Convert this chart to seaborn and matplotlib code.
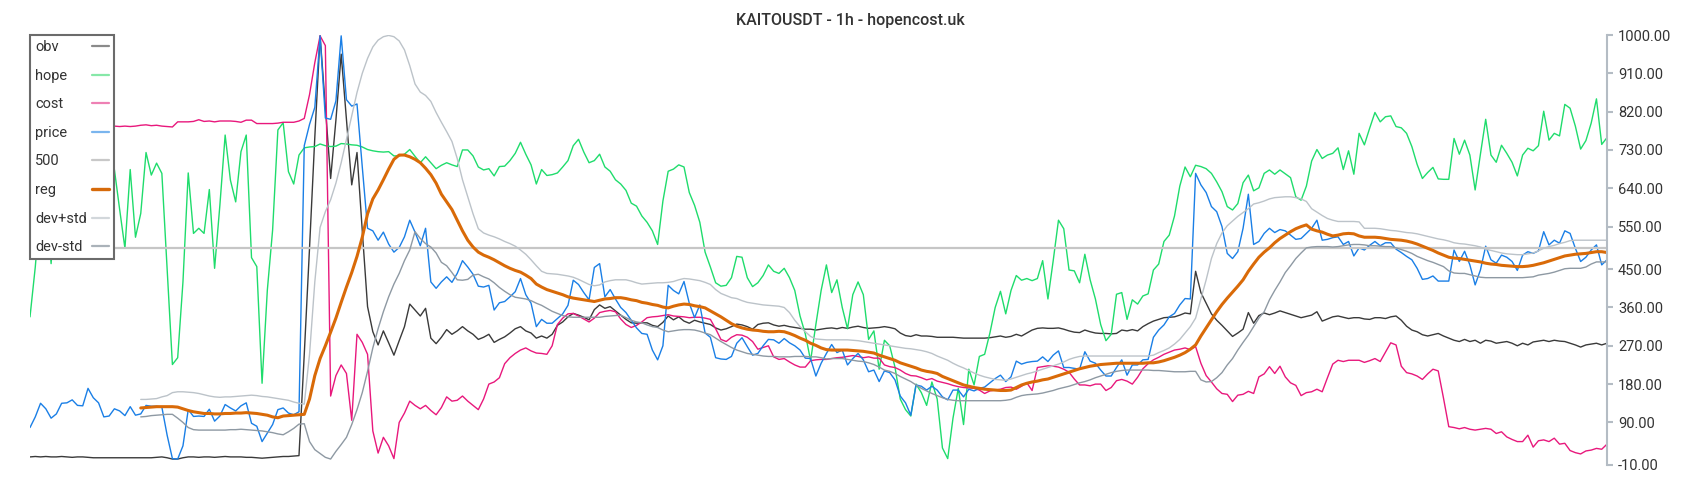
import numpy as np
import pandas as pd
import matplotlib
matplotlib.use("Agg")
import matplotlib.pyplot as plt
import seaborn as sns
from matplotlib.lines import Line2D

TITLE = "KAITOUSDT - 1h - hopencost.uk"

obv = [9, 10, 9, 10, 9, 9, 10, 9, 8, 9,
       9, 8, 7, 7, 7, 7, 7, 7, 7, 7,
       7, 7, 7, 7, 8, 9, 7, 4, 4, 7,
       9, 9, 8, 9, 9, 8, 9, 10, 9, 9,
       9, 8, 8, 7, 6, 7, 8, 9, 10, 10,
       11, 12, 250, 500, 760, 998, 830, 663, 800, 955,
       800, 648, 724, 540, 362, 303, 272, 305, 277, 248,
       282, 315, 368, 354, 340, 358, 288, 275, 290, 308,
       297, 305, 315, 305, 297, 285, 290, 297, 278, 285,
       291, 300, 310, 315, 305, 300, 288, 293, 288, 297,
       318, 326, 338, 346, 342, 337, 331, 355, 366, 358,
       362, 352, 342, 332, 324, 323, 324, 324, 318, 315,
       325, 340, 331, 338, 328, 323, 330, 326, 323, 320,
       312, 307, 310, 315, 321, 319, 315, 309, 320, 323,
       324, 319, 316, 318, 315, 313, 311, 309, 309, 307,
       309, 311, 312, 310, 313, 311, 314, 316, 313, 311,
       312, 313, 315, 313, 310, 300, 294, 292, 296, 293,
       293, 292, 290, 290, 290, 290, 289, 288, 288, 288,
       288, 288, 289, 291, 293, 290, 292, 297, 293, 300,
       307, 311, 312, 311, 311, 312, 309, 305, 302, 301,
       307, 303, 300, 299, 299, 298, 299, 307, 305, 308,
       305, 315, 322, 328, 332, 336, 337, 338, 342, 347,
       345, 445, 395, 370, 345, 330, 318, 305, 292, 300,
       309, 348, 323, 341, 347, 343, 347, 352, 348, 344,
       340, 336, 339, 342, 350, 328, 333, 338, 340, 337,
       334, 336, 336, 333, 332, 336, 336, 334, 338, 340,
       330, 316, 307, 303, 296, 293, 296, 299, 293, 288,
       283, 280, 285, 280, 283, 276, 283, 281, 276, 278,
       280, 276, 270, 276, 272, 279, 281, 283, 280, 283,
       281, 280, 276, 272, 267, 272, 274, 276, 272, 276]

hope = [338, 455, 600, 650, 463, 640, 700, 620, 680, 600,
        650, 700, 640, 690, 620, 600, 684, 590, 499, 684,
        525, 581, 724, 671, 699, 675, 450, 226, 242, 420,
        676, 534, 546, 534, 637, 452, 600, 765, 659, 608,
        726, 765, 477, 456, 182, 401, 542, 777, 794, 679,
        650, 718, 735, 737, 738, 744, 740, 738, 739, 745,
        744, 742, 741, 737, 731, 728, 726, 725, 726, 716,
        716, 720, 731, 715, 700, 714, 700, 686, 694, 700,
        695, 691, 730, 730, 716, 690, 683, 686, 669, 691,
        692, 705, 722, 748, 720, 695, 650, 684, 670, 672,
        676, 690, 705, 740, 755, 725, 700, 705, 720, 690,
        680, 660, 650, 635, 605, 598, 575, 560, 540, 508,
        610, 680, 685, 695, 690, 630, 600, 560, 490, 455,
        418, 410, 412, 430, 480, 478, 430, 409, 418, 435,
        460, 445, 440, 452, 430, 400, 340, 298, 235, 320,
        400, 460, 395, 425, 360, 310, 390, 420, 390, 285,
        305, 215, 283, 270, 220, 145, 120, 105, 180, 160,
        130, 185, 145, 30, 5, 100, 170, 85, 215, 178,
        245, 250, 300, 360, 398, 345, 400, 435, 424, 428,
        423, 428, 470, 380, 470, 565, 545, 448, 446, 418,
        485, 425, 380, 320, 282, 297, 391, 395, 332, 378,
        368, 387, 392, 448, 462, 515, 530, 575, 645, 690,
        667, 694, 691, 686, 675, 655, 632, 597, 589, 604,
        653, 671, 634, 641, 675, 683, 673, 683, 674, 665,
        620, 612, 645, 704, 731, 710, 718, 722, 735, 684,
        728, 673, 769, 742, 781, 818, 796, 808, 810, 785,
        782, 769, 738, 696, 663, 677, 689, 662, 661, 661,
        757, 720, 753, 718, 636, 720, 802, 718, 701, 741,
        722, 701, 669, 718, 734, 728, 740, 821, 753, 769,
        763, 837, 828, 786, 732, 752, 793, 850, 743, 759]

cost = [785, 786, 785, 784, 786, 785, 787, 786, 785, 784,
        786, 785, 786, 787, 786, 785, 786, 785, 786, 785,
        786, 788, 789, 787, 788, 786, 785, 784, 796, 796,
        796, 797, 801, 797, 798, 796, 798, 798, 798, 797,
        795, 800, 800, 792, 792, 792, 792, 793, 795, 795,
        795, 798, 804, 860, 935, 998, 975, 152, 200, 225,
        205, 95, 297, 278, 250, 70, 18, 55, 35, 5,
        90, 112, 140, 130, 122, 130, 118, 108, 125, 150,
        140, 142, 152, 140, 130, 120, 145, 180, 185, 195,
        228, 242, 252, 260, 265, 258, 253, 252, 250, 270,
        320, 335, 345, 346, 340, 333, 326, 335, 348, 351,
        353, 350, 333, 320, 313, 318, 326, 336, 338, 339,
        341, 343, 340, 339, 338, 336, 337, 337, 335, 332,
        310, 285, 280, 290, 296, 295, 290, 280, 262, 266,
        270, 244, 238, 240, 232, 225, 220, 220, 235, 237,
        238, 238, 240, 242, 243, 245, 247, 245, 242, 244,
        241, 241, 225, 221, 219, 213, 205, 200, 199, 195,
        190, 193, 187, 184, 181, 177, 174, 172, 171, 170,
        166, 158, 164, 166, 168, 172, 173, 168, 175, 183,
        165, 219, 221, 223, 222, 220, 215, 208, 192, 178,
        178, 176, 180, 180, 165, 172, 188, 191, 187, 180,
        196, 216, 228, 237, 243, 250, 255, 260, 262, 265,
        261, 268, 229, 200, 185, 169, 158, 156, 139, 154,
        156, 163, 158, 197, 204, 221, 205, 222, 197, 183,
        177, 153, 160, 162, 168, 162, 195, 227, 236, 233,
        236, 236, 236, 231, 235, 240, 233, 255, 277, 272,
        222, 207, 204, 199, 191, 204, 215, 211, 147, 80,
        78, 75, 78, 74, 72, 74, 76, 74, 64, 68,
        56, 50, 45, 45, 60, 32, 47, 49, 45, 53,
        39, 41, 24, 19, 16, 23, 25, 29, 27, 39]

price = [78, 103, 135, 122, 100, 110, 135, 136, 143, 130,
         129, 170, 148, 136, 103, 105, 122, 117, 106, 127,
         107, 110, 130, 128, 128, 126, 60, 5, 4, 35,
         120, 104, 105, 104, 121, 93, 105, 132, 124, 117,
         129, 136, 88, 81, 45, 65, 85, 120, 124, 112,
         108, 115, 740, 790, 830, 998, 805, 802, 845, 998,
         848, 833, 838, 690, 546, 540, 518, 537, 509, 490,
         501, 526, 565, 537, 505, 546, 420, 405, 420, 432,
         419, 440, 470, 455, 438, 410, 408, 412, 354, 371,
         374, 385, 397, 428, 390, 370, 315, 332, 323, 323,
         334, 345, 365, 424, 414, 395, 378, 454, 463, 385,
         402, 380, 360, 348, 330, 312, 299, 297, 260, 237,
         270, 412, 400, 392, 421, 370, 336, 366, 300, 290,
         242, 239, 238, 245, 276, 289, 268, 248, 252, 270,
         285, 284, 276, 287, 277, 270, 260, 241, 240, 199,
         229, 252, 273, 254, 260, 225, 240, 252, 237, 209,
         213, 186, 211, 207, 190, 152, 136, 107, 178, 175,
         166, 175, 166, 150, 143, 166, 166, 150, 168, 164,
         170, 173, 183, 193, 201, 186, 197, 234, 227, 231,
         233, 234, 244, 233, 248, 258, 219, 219, 217, 215,
         256, 234, 229, 213, 199, 199, 219, 237, 201, 225,
         225, 237, 238, 290, 307, 319, 338, 346, 366, 381,
         380, 675, 648, 630, 597, 585, 550, 487, 475, 491,
         546, 626, 508, 515, 534, 546, 536, 543, 540, 530,
         520, 522, 534, 546, 565, 518, 520, 524, 526, 508,
         515, 481, 500, 495, 506, 515, 505, 512, 512, 497,
         489, 480, 472, 452, 426, 428, 434, 422, 422, 422,
         495, 468, 492, 460, 413, 448, 504, 472, 464, 483,
         478, 468, 447, 483, 491, 487, 493, 538, 507, 518,
         511, 540, 534, 499, 468, 478, 495, 507, 460, 472]

band_start = 21

reg = [124, 125, 126, 127, 127, 127, 127, 126, 122, 118,
       115, 113, 111, 111, 110, 110, 111, 111, 112, 112,
       113, 112, 111, 109, 107, 103, 101, 105, 106, 107,
       108, 109, 145, 200, 240, 270, 302, 335, 372, 408,
       442, 480, 525, 580, 615, 636, 660, 685, 708, 718,
       718, 714, 708, 700, 687, 672, 652, 626, 608, 590,
       565, 540, 518, 502, 490, 483, 478, 472, 465, 458,
       452, 447, 443, 436, 428, 415, 408, 402, 398, 394,
       390, 385, 382, 380, 378, 376, 374, 377, 380, 381,
       383, 383, 381, 378, 376, 372, 370, 367, 365, 361,
       359, 363, 366, 368, 367, 364, 362, 359, 352, 345,
       338, 330, 322, 316, 312, 309, 307, 306, 304, 303,
       303, 304, 303, 299, 294, 288, 283, 276, 271, 265,
       261, 260, 260, 260, 260, 259, 258, 257, 255, 253,
       248, 244, 240, 236, 230, 226, 222, 218, 213, 210,
       208, 205, 198, 193, 188, 183, 178, 175, 172, 170,
       168, 167, 166, 165, 165, 166, 172, 178, 182, 185,
       187, 190, 192, 196, 200, 204, 208, 212, 216, 219,
       222, 224, 226, 227, 228, 229, 229, 229, 229, 229,
       229, 230, 230, 232, 235, 239, 243, 248, 254, 262,
       272, 293, 312, 331, 350, 367, 382, 396, 410, 425,
       445, 462, 478, 490, 500, 512, 522, 530, 538, 545,
       550, 554, 544, 540, 537, 532, 528, 530, 533, 534,
       533, 528, 525, 525, 525, 524, 522, 520, 519, 518,
       516, 513, 509, 504, 499, 494, 488, 483, 478, 476,
       475, 473, 471, 469, 467, 464, 462, 461, 459, 458,
       457, 456, 456, 457, 459, 462, 465, 469, 473, 477,
       481, 483, 485, 486, 487, 489, 491, 491, 489]

dev_plus = [144, 144, 145, 146, 150, 153, 160, 162, 162, 161,
            160, 158, 155, 152, 150, 149, 150, 150, 151, 152,
            153, 154, 153, 151, 150, 148, 146, 144, 142, 138,
            135, 133, 250, 420, 548, 585, 613, 652, 700, 755,
            810, 865, 910, 945, 972, 988, 996, 999, 996, 986,
            965, 928, 885, 866, 858, 844, 818, 795, 773, 750,
            710, 660, 620, 580, 545, 535, 530, 526, 521, 515,
            510, 504, 495, 485, 472, 458, 445, 440, 439, 438,
            436, 434, 431, 426, 420, 414, 411, 413, 420, 423,
            425, 425, 425, 422, 418, 415, 416, 417, 418, 418,
            419, 421, 425, 428, 427, 425, 423, 419, 414, 402,
            393, 388, 383, 381, 376, 372, 370, 368, 366, 365,
            364, 363, 360, 348, 330, 315, 303, 292, 286, 285,
            284, 284, 284, 284, 284, 283, 282, 280, 278, 276,
            274, 272, 270, 268, 266, 264, 263, 261, 259, 256,
            252, 246, 241, 236, 229, 223, 218, 212, 206, 201,
            197, 194, 191, 190, 189, 192, 196, 200, 204, 207,
            211, 215, 219, 223, 227, 232, 238, 242, 245, 246,
            246, 246, 246, 246, 246, 246, 246, 246, 246, 246,
            246, 246, 248, 254, 259, 265, 274, 285, 300, 315,
            335, 380, 425, 475, 510, 535, 552, 563, 574, 583,
            592, 603, 606, 610, 615, 618, 619, 620, 620, 618,
            615, 609, 592, 584, 576, 569, 565, 562, 562, 562,
            562, 561, 546, 546, 546, 545, 543, 541, 540, 538,
            536, 535, 533, 530, 527, 524, 521, 519, 516, 512,
            510, 509, 507, 505, 502, 497, 494, 491, 488, 486,
            485, 484, 484, 486, 488, 493, 499, 503, 506, 510,
            513, 517, 518, 518, 518, 518, 518, 518, 518]

dev_minus = [103, 104, 106, 107, 108, 109, 109, 100, 90, 78,
             73, 72, 72, 72, 72, 72, 72, 73, 73, 74,
             73, 72, 71, 70, 68, 66, 63, 61, 68, 76,
             86, 87, 45, 26, 17, 8, 4, 22, 38, 55,
             85, 120, 160, 210, 265, 310, 350, 385, 415, 440,
             470, 495, 538, 522, 510, 502, 488, 466, 458, 442,
             425, 424, 426, 436, 438, 432, 427, 418, 407, 398,
             390, 384, 382, 380, 376, 370, 365, 358, 351, 346,
             341, 338, 337, 337, 337, 337, 337, 337, 339, 340,
             341, 342, 336, 330, 326, 324, 319, 315, 313, 307,
             303, 305, 307, 308, 308, 307, 304, 300, 296, 288,
             280, 273, 266, 260, 256, 252, 250, 248, 246, 245,
             245, 244, 244, 244, 245, 245, 245, 244, 244, 242,
             239, 240, 240, 240, 238, 236, 234, 233, 230, 226,
             220, 213, 210, 205, 198, 192, 186, 178, 170, 164,
             158, 153, 148, 144, 142, 141, 141, 141, 141, 141,
             141, 141, 141, 141, 142, 144, 149, 153, 155, 156,
             157, 159, 162, 165, 169, 172, 175, 179, 183, 186,
             190, 195, 199, 203, 207, 210, 212, 213, 213, 213,
             213, 213, 212, 212, 211, 210, 209, 209, 209, 210,
             210, 190, 185, 186, 195, 207, 225, 240, 260, 278,
             295, 315, 335, 350, 378, 400, 420, 442, 458, 475,
             488, 500, 502, 503, 503, 503, 502, 503, 505, 507,
             508, 508, 507, 505, 505, 504, 503, 503, 500, 496,
             492, 487, 480, 475, 470, 466, 461, 456, 446, 441,
             440, 440, 437, 434, 431, 430, 430, 430, 430, 430,
             430, 430, 430, 431, 432, 436, 438, 440, 443, 447,
             451, 452, 452, 452, 455, 462, 467, 467, 467]

level_500 = 500

y_ticks = [1000, 910, 820, 730, 640, 550, 450, 360, 270, 180, 90, -10]

series_names = ["obv", "hope", "cost", "price", "500", "reg", "dev+std", "dev-std"]
line_colors = ["#3a3a3a", "#1fdc6c", "#e8187c", "#1a7fe6", "#c6c6c6", "#d96a08", "#bcc3c9", "#8e99a3"]
legend_colors = ["#8a8a8a", "#86e8a8", "#ee80b4", "#7ab5ee", "#c8c8c8", "#d66a0a", "#d2d7db", "#aab2b9"]
line_widths = [1.0, 1.0, 1.0, 1.0, 1.6, 2.2, 1.0, 1.0]

n = len(price)
t_all = np.arange(n)
t_band = np.arange(band_start, band_start + len(reg))

values = {
    "obv": (t_all, obv),
    "hope": (t_all, hope),
    "cost": (t_all, cost),
    "price": (t_all, price),
    "500": (t_all, [level_500] * n),
    "reg": (t_band, reg),
    "dev+std": (t_band, dev_plus),
    "dev-std": (t_band, dev_minus),
}
frames = []
for name in series_names:
    xs, ys = values[name]
    frames.append(pd.DataFrame({"t": xs, "v": ys, "series": name}))
df = pd.concat(frames, ignore_index=True)

sns.set_style("white")
plt.rcParams["font.family"] = ["Roboto", "DejaVu Sans"]

fig = plt.figure(figsize=(17, 5), dpi=100)
ax = fig.add_axes([30 / 1700, 35 / 500, 1577 / 1700, 430 / 500])

for name, col, lw in zip(series_names, line_colors, line_widths):
    sub = df[df["series"] == name]
    sns.lineplot(data=sub, x="t", y="v", ax=ax, color=col, linewidth=lw,
                 estimator=None, sort=False, legend=False)

ax.set_xlim(0, n - 1)
ax.set_ylim(-10, 1000)
ax.set_xlabel("")
ax.set_ylabel("")
ax.set_xticks([])
ax.yaxis.tick_right()
ax.set_yticks(y_ticks)
ax.set_yticklabels([f"{v:.2f}" for v in y_ticks])
ax.tick_params(axis="y", which="both", right=True, left=False, length=4, width=1.5,
               color="#b4bcc4", labelcolor="#333333", labelsize=10.5, pad=4)
for side in ["top", "left", "bottom"]:
    ax.spines[side].set_visible(False)
ax.spines["right"].set_visible(True)
ax.spines["right"].set_color("#b4bcc4")
ax.spines["right"].set_linewidth(1.5)

handles = [Line2D([], [], color=c, lw=(2.4 if nm == "reg" else 1.6))
           for nm, c in zip(series_names, legend_colors)]
leg = ax.legend(handles, series_names, loc="upper left", bbox_to_anchor=(0, 1),
                borderaxespad=0, frameon=True, fancybox=False, framealpha=1,
                edgecolor="#6b6b6b", markerfirst=False, handlelength=1.15,
                handletextpad=0.35, labelspacing=1.0, borderpad=0.35,
                fontsize=10.5, labelcolor="#333333")
leg.get_frame().set_linewidth(1.5)

# left-align the labels while keeping the line samples flush right
try:
    fig.canvas.draw()
    renderer = fig.canvas.get_renderer()
    widths = [txt.get_window_extent(renderer).width for txt in leg.get_texts()]
    maxw = max(widths)
    p2pt = 72.0 / fig.dpi
    base = leg.handletextpad * leg._fontsize
    for column in leg._legend_handle_box.get_children():
        column.align = "left"
        for row, w in zip(column.get_children(), widths):
            row.sep = base + (maxw - w) * p2pt
except Exception:
    pass

fig.text(0.5, 1 - 21 / 500, TITLE, ha="center", va="center", fontsize=11.5,
         fontweight="medium", color="#333333")

fig.savefig("out.png", dpi=100)
